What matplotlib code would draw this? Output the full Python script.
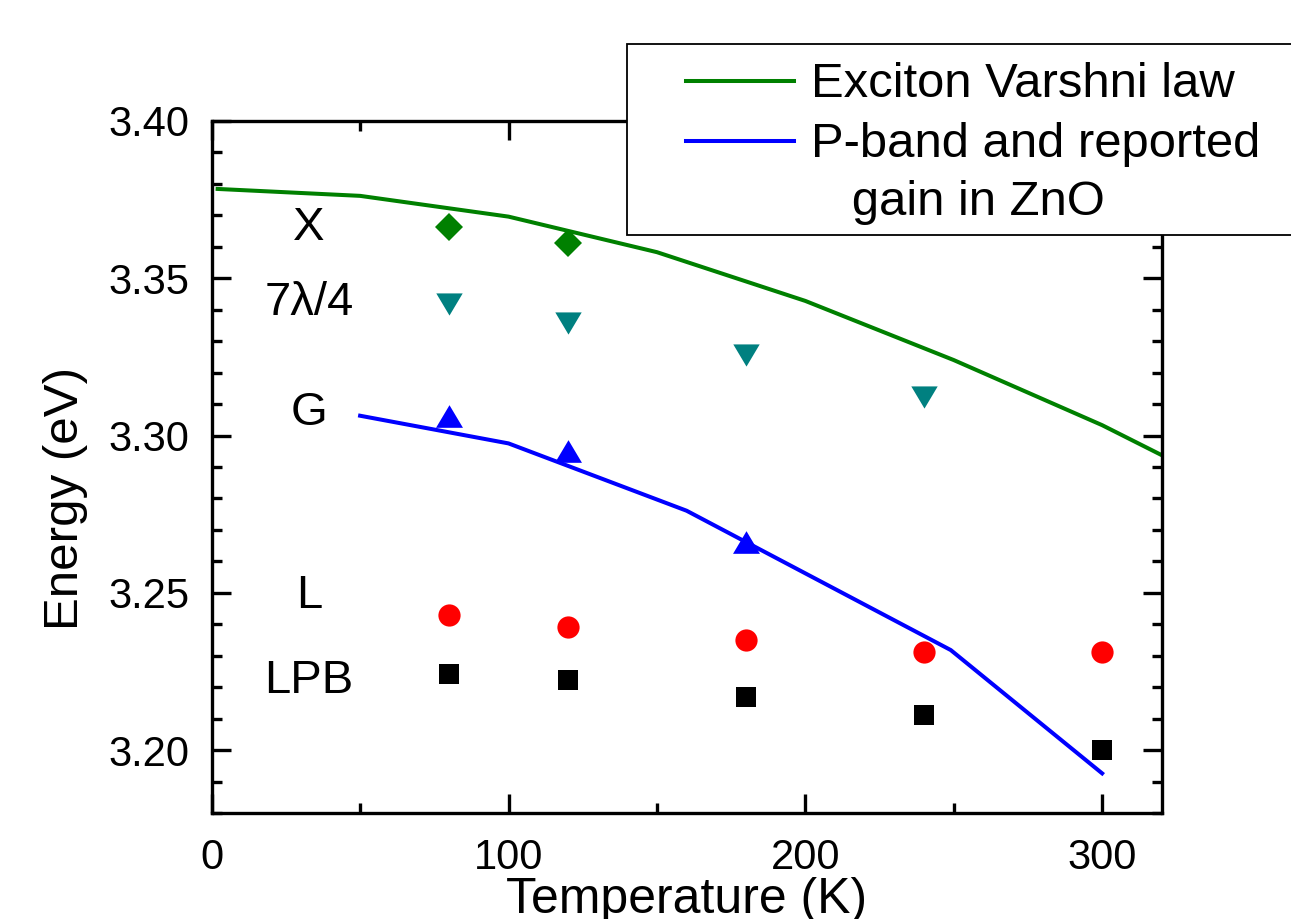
import matplotlib
matplotlib.use("Agg")
import matplotlib.pyplot as plt
from matplotlib.ticker import MultipleLocator, FormatStrFormatter
from matplotlib.patches import Rectangle
from matplotlib.lines import Line2D

plt.rcParams['font.family'] = ['Liberation Sans', 'DejaVu Sans']

# Temperatures des mesures (K)
temp_mes = [80, 120, 180, 240, 300]

# Energies mesurees (eV)
e_x = [3.3662, 3.3611]                       # X (80, 120 K)
e_7l4 = [3.3419, 3.3357, 3.3256, 3.3123]     # 7lambda/4 (80..240 K)
e_g = [3.3061, 3.2951, 3.2662]               # G (80..180 K)
e_l = [3.2431, 3.2391, 3.2350, 3.2313, 3.2311]
e_lpb = [3.2241, 3.2222, 3.2170, 3.2113, 3.2000]

# Loi de Varshni de l'exciton
t_varshni = [2, 50, 100, 150, 200, 250, 300, 320]
e_varshni = [3.3784, 3.3762, 3.3696, 3.3583, 3.3428, 3.3240, 3.3033, 3.2938]

# Bande P et gain rapporte dans ZnO
t_pband = [50, 100, 160, 249, 300]
e_pband = [3.3063, 3.2975, 3.2761, 3.2318, 3.1926]

# Etiquettes des series
noms = ["X", "7λ/4", "G", "L", "LPB"]
noms_legende = ["Exciton Varshni law", "P-band and reported", "   gain in ZnO"]

W, H = 1291, 919
fig = plt.figure(figsize=(W / 100, H / 100), dpi=100)
ax = fig.add_axes([211.7 / W, 1 - 813 / H, 949.8 / W, 692 / H])

vert = "#008000"
bleu = "#0000FF"
sarcelle = "#008080"

ax.plot(t_varshni, e_varshni, color=vert, lw=2.9, zorder=2)
ax.plot(t_pband, e_pband, color=bleu, lw=2.9, zorder=2)

# triangles un peu plus larges que hauts, comme dans l'original
tri_bas = [(-1, 0.84), (1, 0.84), (0, -0.84)]
tri_haut = [(-1, -0.84), (1, -0.84), (0, 0.84)]

ax.plot(temp_mes[:2], e_x, ls="none", marker="D", ms=14, color=vert, mew=0, zorder=3)
ax.plot(temp_mes[:4], e_7l4, ls="none", marker=tri_bas, ms=19, color=sarcelle, mew=0, zorder=3)
ax.plot(temp_mes[:3], e_g, ls="none", marker=tri_haut, ms=19.4, color=bleu, mew=0, zorder=3)
ax.plot(temp_mes, e_l, ls="none", marker="o", ms=16, color="red", mew=0, zorder=3)
ax.plot(temp_mes, e_lpb, ls="none", marker="s", ms=13.7, color="black", mew=0, zorder=3)

# etiquettes a gauche
y_noms = [3.3622, 3.3383, 3.3034, 3.2451, 3.2181]
for nom, y in zip(noms, y_noms):
    ax.text(32.8, y, nom, ha="center", va="baseline", fontsize=34)

ax.set_xlim(0, 320)
ax.set_ylim(3.18, 3.40)
ax.xaxis.set_major_locator(MultipleLocator(100))
ax.xaxis.set_minor_locator(MultipleLocator(50))
ax.yaxis.set_major_locator(MultipleLocator(0.05))
ax.yaxis.set_minor_locator(MultipleLocator(0.01))
ax.yaxis.set_major_formatter(FormatStrFormatter("%.2f"))

ax.tick_params(which="both", direction="in", top=True, right=True, width=2.4)
ax.tick_params(which="major", length=14)
ax.tick_params(which="minor", length=7)
ax.tick_params(axis="x", which="major", pad=18, labelsize=30)
ax.tick_params(axis="y", which="major", pad=16, labelsize=30)
for s in ax.spines.values():
    s.set_linewidth(2.4)

# le titre de l'axe x est coupe en bas, comme dans l'original
ax.set_xlabel("Temperature (K)", fontsize=36)
ax.set_ylabel("Energy (eV)", fontsize=35.5)
ax.xaxis.set_label_coords(0.5, -0.093)
ax.yaxis.set_label_coords(-0.130, 0.4538)

# legende dessinee a la main (cadre qui deborde a droite)
def fx(px):
    return px / W

def fy(py):
    return 1 - py / H

fig.add_artist(Rectangle((fx(627), fy(235)), fx(1420) - fx(627), (235 - 44) / H,
                         transform=fig.transFigure, fc="white", ec="black",
                         lw=1.3, zorder=10, clip_on=False))
fig.add_artist(Line2D([fx(686), fx(794)], [fy(81), fy(81)], color=vert, lw=2.9,
                      transform=fig.transFigure, zorder=11))
fig.add_artist(Line2D([fx(686), fx(794)], [fy(141), fy(141)], color=bleu, lw=2.9,
                      transform=fig.transFigure, zorder=11))
for nom, yb in zip(noms_legende, [97, 157, 215]):
    fig.text(fx(811), fy(yb), nom, fontsize=35.3, va="baseline", ha="left", zorder=11)

fig.savefig("out.png", dpi=100)
